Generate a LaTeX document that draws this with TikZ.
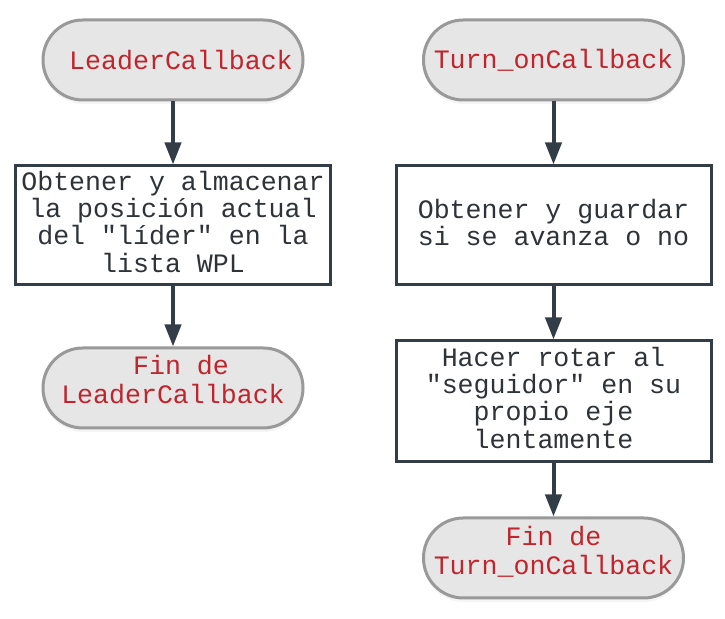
\documentclass[tikz,border=0pt]{standalone}
\usepackage{fontspec}
\setmonofont{Liberation Mono}
\usetikzlibrary{arrows.meta,shadows}
\definecolor{termfill}{HTML}{E6E6E6}
\definecolor{termdraw}{HTML}{999999}
\definecolor{boxdraw}{HTML}{333D47}
\definecolor{redtxt}{HTML}{C0252D}
\definecolor{darktxt}{HTML}{2E3338}
\newcommand\mylines[2]{\raisebox{#1}[\height][\depth]{\begin{tabular}{@{}c@{}}#2\end{tabular}}}
\tikzset{
  term/.style={rectangle, rounded corners=19.9pt, draw=termdraw, fill=termfill, line width=1.5pt,
    minimum width=130pt, minimum height=40pt, inner sep=0pt,
    drop shadow={opacity=0.08, shadow xshift=0pt, shadow yshift=-2pt},
    text=redtxt, font=\ttfamily\fontsize{13.3}{14.5}\selectfont},
  proc/.style={rectangle, draw=boxdraw, fill=white, line width=1.5pt,
    minimum width=157.5pt, minimum height=59.5pt, inner sep=0pt,
    text=darktxt, font=\ttfamily\fontsize{13.3}{13.5}\selectfont},
  flow/.style={draw=boxdraw, line width=2pt, -{Triangle[length=11pt,width=8pt]}}
}
\begin{document}
\begin{tikzpicture}[x=0.5pt,y=-0.5pt]
\useasboundingbox (0,0) rectangle (725,619);
% left column
\node[term] (l1) at (173,60) {\hphantom{L}LeaderCallback};
\node[proc] (l2) at (173,225.5) {\mylines{0pt}{Obtener y almacenar\\la posición actual\\del "líder" en la\\lista WPL}};
\node[term] (l3) at (173,388) {\mylines{2.5pt}{\hphantom{F}Fin de\\LeaderCallback}};
% right column
\node[term] (r1) at (553.5,60) {Turn\_onCallback};
\node[proc] (r2) at (553.5,225.5) {\mylines{-0.5pt}{Obtener y guardar\\si se avanza o no}};
\node[proc, minimum height=60.5pt] (r3) at (553.5,401.5) {\mylines{0pt}{Hacer rotar al\\"seguidor" en su\\propio eje\\lentamente}};
\node[term] (r4) at (553.5,558) {\mylines{2pt}{Fin de\\Turn\_onCallback}};
\draw[flow] (l1) -- (l2);
\draw[flow] (l2) -- (l3);
\draw[flow] (r1) -- (r2);
\draw[flow] (r2) -- (r3);
\draw[flow] (r3) -- (r4);
\end{tikzpicture}
\end{document}
